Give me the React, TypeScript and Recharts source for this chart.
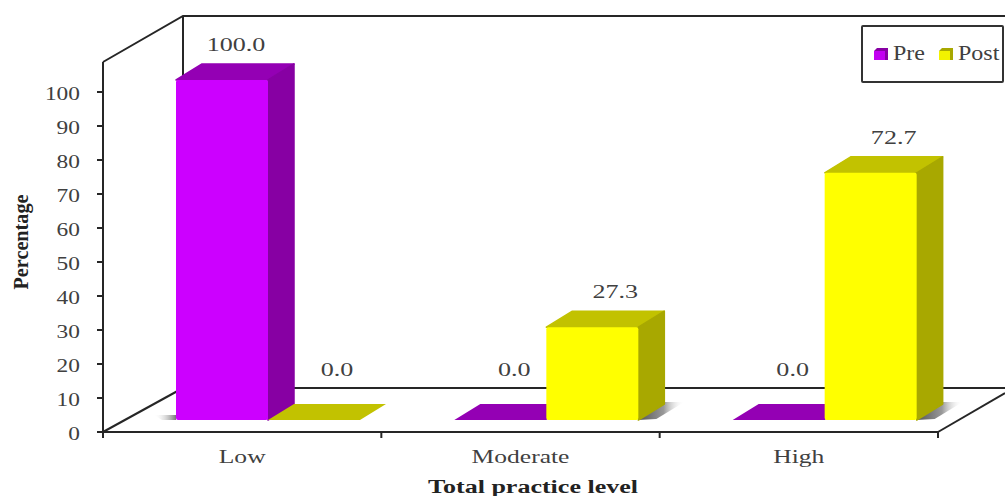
import React from "react";
import { BarChart, Bar, XAxis, YAxis, LabelList, Legend, Customized } from "recharts";

// Total practice level scores before and after the intervention
const categories = ["Low", "Moderate", "High"];
const preValues = [100.0, 0.0, 0.0];
const postValues = [0.0, 27.3, 72.7];
const yTicks = [0, 10, 20, 30, 40, 50, 60, 70, 80, 90, 100];

const rows = categories.map((level, i) => ({ level, Pre: preValues[i], Post: postValues[i] }));

const W = 1005;
const H = 496;
const LEFT = 103;
const RIGHT = 938;
const TOP = 62;
const BOTTOM = 432;
const BAND = (RIGHT - LEFT) / categories.length;
// Bars stand on the floor of the box, a little behind the front edge
const SHIFT_X = 26;
const SHIFT_Y = -12;
const DEPTH_X = 26;
const DEPTH_Y = 16;
const SERIF = "'Liberation Serif', 'Times New Roman', serif";
const INK = "#404040";

const preColors = { front: "#cc00ff", top: "#9400b4", side: "#8700a3" };
const postColors = { front: "#ffff00", top: "#c2c200", side: "#a8a800" };

function WideText({ x, y, anchor = "middle", sx = 1.4, size = 18, children }: any) {
  return (
    <text
      transform={`translate(${x},${y}) scale(${sx},1)`}
      textAnchor={anchor}
      fontFamily={SERIF}
      fontSize={size}
      fill={INK}
    >
      {children}
    </text>
  );
}

// Open box behind the bars: back wall edges and floor
function BoxFrame() {
  const line = { stroke: "#262626", strokeWidth: 2, fill: "none" };
  return (
    <g>
      <defs>
        <linearGradient id="shadeRight" x1="0" x2="1" y1="0" y2="0">
          <stop offset="0" stopColor="#555" />
          <stop offset="0.55" stopColor="#999" />
          <stop offset="1" stopColor="#fff" stopOpacity="0" />
        </linearGradient>
        <linearGradient id="shadeLeft" x1="1" x2="0" y1="0" y2="0">
          <stop offset="0" stopColor="#777" />
          <stop offset="1" stopColor="#fff" stopOpacity="0" />
        </linearGradient>
      </defs>
      <polyline points={`${LEFT},${TOP} 183,16 ${W},16`} {...line} />
      <line x1={183} y1={16} x2={183} y2={388} {...line} />
      <line x1={183} y1={388} x2={W} y2={388} {...line} />
      <line x1={LEFT} y1={BOTTOM} x2={183} y2={388} {...line} />
      <line x1={RIGHT} y1={BOTTOM} x2={W} y2={393} {...line} />
    </g>
  );
}

function Block3D({ x, y, width, height, colors, shadeLeft }: any) {
  const l = x + SHIFT_X;
  const r = l + width;
  const t = y + SHIFT_Y;
  const b = t + height;
  const join = { strokeLinejoin: "round" as const, strokeWidth: 1.5 };
  if (height < 1) {
    return (
      <polygon
        points={`${l},${b} ${r},${b} ${r + DEPTH_X},${b - DEPTH_Y} ${l + DEPTH_X},${b - DEPTH_Y}`}
        fill={colors.top}
      />
    );
  }
  return (
    <g>
      {shadeLeft ? (
        <polygon points={`${l - 22},${b - 5} ${l},${b - 5} ${l},${b} ${l - 14},${b}`} fill="url(#shadeLeft)" />
      ) : (
        <polygon
          points={`${r},${b} ${r + DEPTH_X},${b - DEPTH_Y - 2} ${r + 46},${b - DEPTH_Y - 2} ${r + 18},${b - 1}`}
          fill="url(#shadeRight)"
        />
      )}
      <polygon
        points={`${l},${t} ${l + DEPTH_X},${t - DEPTH_Y} ${r + DEPTH_X},${t - DEPTH_Y} ${r},${t}`}
        fill={colors.top}
        stroke={colors.top}
        {...join}
      />
      <polygon
        points={`${r},${t} ${r + DEPTH_X},${t - DEPTH_Y} ${r + DEPTH_X},${b - DEPTH_Y} ${r},${b}`}
        fill={colors.side}
        stroke={colors.side}
        {...join}
      />
      <rect x={l} y={t} width={width} height={height} rx={2} fill={colors.front} />
    </g>
  );
}

function ValueLabel({ x, y, width, value, dx = 0 }: any) {
  const zero = Number(value) === 0;
  const gap = zero ? 50 : 35;
  return (
    <WideText x={x + SHIFT_X + width / 2 + DEPTH_X / 2 + dx} y={y + SHIFT_Y - gap + 6} sx={1.45}>
      {Number(value).toFixed(1)}
    </WideText>
  );
}

function CategoryTick({ x, payload, index }: any) {
  const mark = { stroke: "#262626", strokeWidth: 2 };
  return (
    <g>
      <line x1={x - BAND / 2} x2={x - BAND / 2} y1={BOTTOM} y2={BOTTOM + 6} {...mark} />
      {index === categories.length - 1 && (
        <line x1={x + BAND / 2} x2={x + BAND / 2} y1={BOTTOM} y2={BOTTOM + 6} {...mark} />
      )}
      <WideText x={x} y={463} sx={1.42}>
        {payload.value}
      </WideText>
    </g>
  );
}

function ValueTick({ y, payload }: any) {
  return (
    <WideText x={80} y={y + 8} anchor="end" sx={1.3}>
      {payload.value}
    </WideText>
  );
}

function LegendSwatch({ colors, left }: any) {
  return (
    <svg width={16} height={14} style={{ position: "absolute", left, top: 20 }}>
      <polygon points="1,13 1,4 4,1 15,1 15,13" fill={colors.side} />
      <rect x={1} y={4} width={11} height={9} fill={colors.front} opacity={0.85} />
    </svg>
  );
}

function LegendBox() {
  const word = {
    position: "absolute" as const,
    top: 14,
    fontFamily: SERIF,
    fontSize: 20,
    color: INK,
    transformOrigin: "left center",
    transform: "scaleX(1.2)",
    lineHeight: "24px",
  };
  return (
    <div
      style={{
        position: "relative",
        width: 143,
        height: 58,
        boxSizing: "border-box",
        border: "2px solid #333",
        borderRadius: 2,
        background: "#fff",
      }}
    >
      <LegendSwatch colors={preColors} left={10} />
      <span style={{ ...word, left: 30 }}>Pre</span>
      <LegendSwatch colors={postColors} left={75} />
      <span style={{ ...word, left: 95 }}>Post</span>
    </div>
  );
}

function YTitle() {
  return (
    <text
      transform="translate(28,242) rotate(-90)"
      textAnchor="middle"
      textLength={95}
      lengthAdjust="spacingAndGlyphs"
      fontFamily={SERIF}
      fontWeight="bold"
      fontSize={21}
      fill="#222"
    >
      Percentage
    </text>
  );
}

function XTitle() {
  return (
    <text
      x={533}
      y={493}
      textAnchor="middle"
      textLength={210}
      lengthAdjust="spacingAndGlyphs"
      fontFamily={SERIF}
      fontWeight="bold"
      fontSize={18}
      fill="#222"
    >
      Total practice level
    </text>
  );
}

export default function App() {
  return (
    <div style={{ position: "absolute", left: 0, top: 0, width: W, height: H, background: "#fff" }}>
      <BarChart
        width={W}
        height={H}
        data={rows}
        margin={{ left: 43, right: W - RIGHT, top: TOP, bottom: 24 }}
        barSize={92}
        barGap={0}
      >
        <Customized component={BoxFrame} />
        <XAxis
          dataKey="level"
          height={40}
          axisLine={{ stroke: "#262626", strokeWidth: 2 }}
          tickLine={false}
          tick={<CategoryTick />}
          interval={0}
          label={<XTitle />}
        />
        <YAxis
          width={60}
          domain={[0, (BOTTOM - TOP) / 3.4]}
          ticks={yTicks}
          interval={0}
          axisLine={{ stroke: "#262626", strokeWidth: 2 }}
          tickLine={{ stroke: "#262626", strokeWidth: 2 }}
          tickSize={6}
          tick={<ValueTick />}
          label={<YTitle />}
        />
        <Legend
          verticalAlign="middle"
          align="center"
          layout="vertical"
          content={<LegendBox />}
          wrapperStyle={{ position: "absolute", left: 861, top: 25, width: 143, height: 58 }}
        />
        <Bar
          dataKey="Pre"
          isAnimationActive={false}
          shape={(p: any) => <Block3D {...p} colors={preColors} shadeLeft />}
        >
          <LabelList dataKey="Pre" content={<ValueLabel dx={1} />} />
        </Bar>
        <Bar
          dataKey="Post"
          isAnimationActive={false}
          shape={(p: any) => <Block3D {...p} colors={postColors} />}
        >
          <LabelList dataKey="Post" content={<ValueLabel dx={10} />} />
        </Bar>
      </BarChart>
    </div>
  );
}
